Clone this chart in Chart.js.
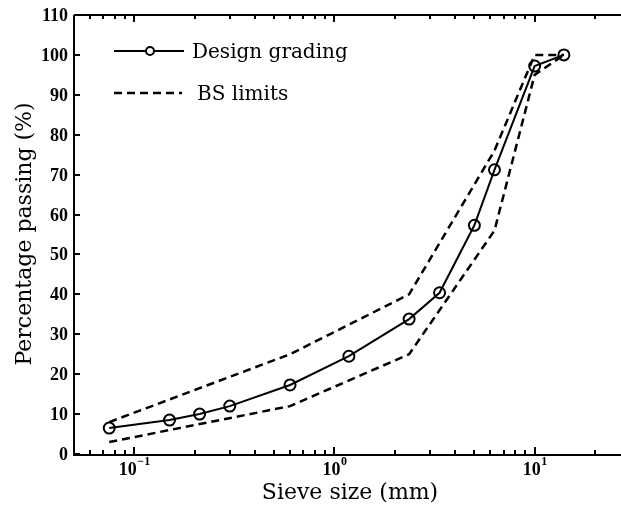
<!DOCTYPE html>
<html><head><meta charset="utf-8">
<script src="https://cdn.jsdelivr.net/npm/chart.js@4.4.1/dist/chart.umd.min.js"></script>
<style>html,body{margin:0;padding:0;background:#fff;overflow:hidden}#wrap{width:621px;height:510px}</style>
</head><body><div id="wrap"><canvas id="c" width="621" height="510"></canvas></div>
<script>
// ---- data ----
const sieveSizes    = [0.075, 0.15, 0.212, 0.3, 0.6, 1.18, 2.36, 3.35, 5, 6.3, 10, 14];
const designPassing = [6.5, 8.5, 10, 12, 17.3, 24.5, 33.8, 40.4, 57.3, 71.2, 97.2, 100];
const limitSizes    = [0.075, 0.6, 2.36, 6.3, 10, 14];
const upperLimit    = [8, 25, 40, 76, 100, 100];
const lowerLimit    = [3, 12, 25, 56, 95, 100];
const yTickValues   = [0, 10, 20, 30, 40, 50, 60, 70, 80, 90, 100, 110];
const xMajorTicks   = [0.1, 1, 10];
const xMajorBase    = '10';
const xMajorExps    = ['\u22121', '0', '1'];
const xMinorTicks   = [0.06, 0.07, 0.08, 0.09, 0.2, 0.3, 0.4, 0.5, 0.6, 0.7, 0.8, 0.9,
                       2, 3, 4, 5, 6, 7, 8, 9, 20];
const xTitle = 'Sieve size (mm)';
const yTitle = 'Percentage passing (%)';
const legendLabels = ['Design grading', 'BS limits'];

const pts = (xs, ys) => xs.map((x, i) => ({x: x, y: ys[i]}));

const frame = {
  id: 'frame',
  afterDraw(chart) {
    const ctx = chart.ctx, a = chart.chartArea;
    const xs = chart.scales.x, ys = chart.scales.y;
    ctx.save();
    ctx.strokeStyle = '#000'; ctx.fillStyle = '#000'; ctx.lineWidth = 2; ctx.lineCap = 'butt';
    // axes
    ctx.beginPath();
    ctx.moveTo(a.left, a.top); ctx.lineTo(a.left, a.bottom + 1); ctx.lineTo(a.right, a.bottom + 1);
    ctx.moveTo(a.left, a.top); ctx.lineTo(a.right, a.top);
    ctx.stroke();
    // y ticks
    ctx.font = 'bold 18px "Liberation Serif"';
    ctx.textAlign = 'right'; ctx.textBaseline = 'middle';
    yTickValues.forEach(v => {
      const py = Math.round(ys.getPixelForValue(v));
      ctx.beginPath(); ctx.moveTo(a.left, py); ctx.lineTo(a.left + 6, py); ctx.stroke();
      ctx.fillText(String(v), a.left - 6, py + 1);
    });
    // x ticks
    const tk = (v, len) => {
      const px = Math.round(xs.getPixelForValue(v));
      ctx.beginPath();
      ctx.moveTo(px, a.bottom); ctx.lineTo(px, a.bottom - len);
      ctx.moveTo(px, a.top); ctx.lineTo(px, a.top + len);
      ctx.stroke();
    };
    xMinorTicks.forEach(v => tk(v, 4));
    xMajorTicks.forEach(v => tk(v, 7));
    // x tick labels 10^n
    ctx.textAlign = 'left'; ctx.textBaseline = 'alphabetic';
    xMajorTicks.forEach((v, i) => {
      const px = xs.getPixelForValue(v);
      ctx.font = 'bold 18px "Liberation Serif"';
      const wb = ctx.measureText(xMajorBase).width;
      ctx.font = 'bold 12px "Liberation Serif"';
      const we = ctx.measureText(xMajorExps[i]).width;
      const x0 = px - (wb + we) / 2;
      ctx.font = 'bold 18px "Liberation Serif"';
      ctx.fillText(xMajorBase, x0, 475);
      ctx.font = 'bold 12px "Liberation Serif"';
      ctx.fillText(xMajorExps[i], x0 + wb + 0.5, 465);
    });
    // titles
    ctx.font = '22px "DejaVu Serif"';
    ctx.textAlign = 'center'; ctx.textBaseline = 'alphabetic';
    ctx.fillText(xTitle, 350, 499);
    ctx.save();
    ctx.translate(31, 234); ctx.rotate(-Math.PI / 2);
    ctx.fillText(yTitle, 0, 0);
    ctx.restore();
    // legend
    const d0 = chart.data.datasets[2], d1 = chart.data.datasets[0];
    ctx.lineWidth = d0.borderWidth; ctx.setLineDash([]);
    ctx.beginPath(); ctx.moveTo(114, 51); ctx.lineTo(184, 51); ctx.stroke();
    ctx.beginPath(); ctx.arc(150, 51, 4, 0, Math.PI * 2); ctx.fillStyle = '#fff'; ctx.fill(); ctx.stroke();
    ctx.lineWidth = d1.borderWidth; ctx.setLineDash(d1.borderDash);
    ctx.beginPath(); ctx.moveTo(114, 93); ctx.lineTo(182, 93); ctx.stroke();
    ctx.setLineDash([]);
    ctx.fillStyle = '#000';
    ctx.font = '20px "DejaVu Serif"'; ctx.textAlign = 'left';
    ctx.fillText(legendLabels[0], 192, 58);
    ctx.fillText(legendLabels[1], 197, 100);
    ctx.restore();
  }
};

new Chart(document.getElementById('c'), {
  type: 'scatter',
  data: {
    datasets: [
      {label: 'BS limits', data: pts(limitSizes, upperLimit), showLine: true, borderColor: '#000',
       borderWidth: 2.5, borderDash: [8, 5], pointRadius: 0, fill: false},
      {label: 'BS limits lower', data: pts(limitSizes, lowerLimit), showLine: true, borderColor: '#000',
       borderWidth: 2.5, borderDash: [8, 5], pointRadius: 0, fill: false},
      {label: 'Design grading', data: pts(sieveSizes, designPassing), showLine: true, borderColor: '#000',
       borderWidth: 2, pointRadius: 5.5, pointBorderWidth: 2, pointBorderColor: '#000',
       pointBackgroundColor: 'rgba(0,0,0,0)', fill: false}
    ]
  },
  options: {
    responsive: false, animation: false, devicePixelRatio: 1, events: [],
    layout: {autoPadding: false, padding: {left: 74, top: 15, right: 0, bottom: 56}},
    scales: {
      x: {type: 'logarithmic', min: 0.05, max: 27, display: false},
      y: {type: 'linear', min: 0, max: 110, display: false}
    },
    plugins: {legend: {display: false}, tooltip: {enabled: false}}
  },
  plugins: [frame]
});
</script></body></html>
